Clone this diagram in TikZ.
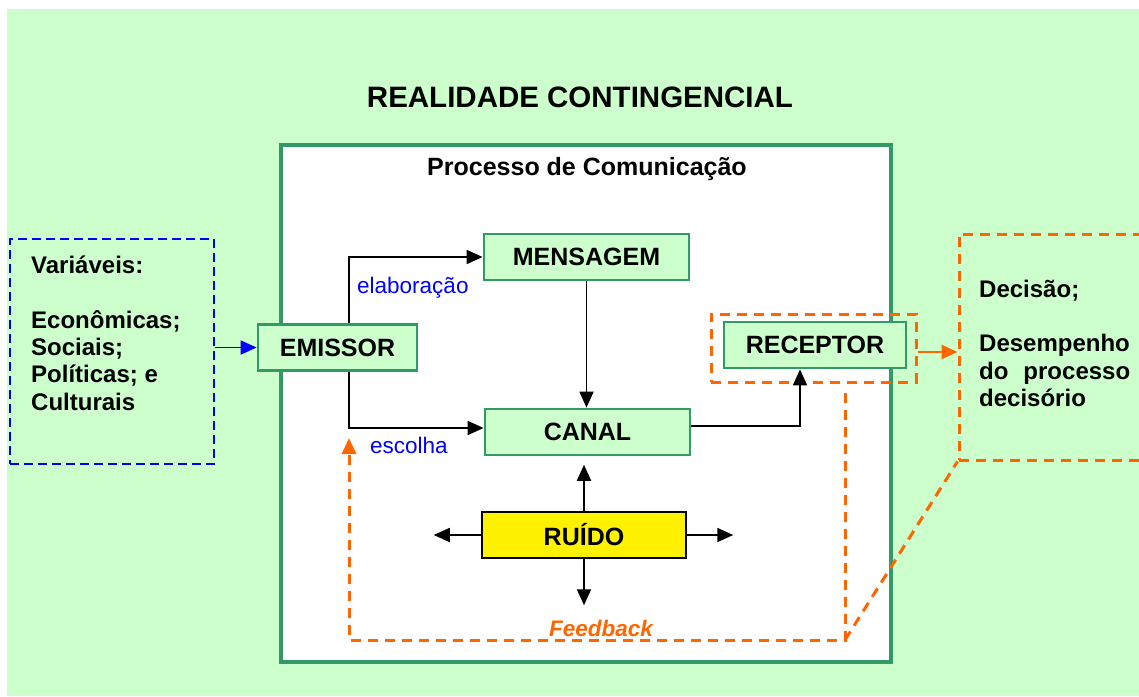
\documentclass[tikz,border=0pt]{standalone}
\usepackage{fontspec}
\setmainfont{Liberation Sans}
\usetikzlibrary{arrows.meta,positioning}
\definecolor{fundo}{HTML}{CCFFCC}
\definecolor{borda}{HTML}{339966}
\definecolor{laranja}{HTML}{FF6600}

\begin{document}
\begin{tikzpicture}[x=1pt,y=-1pt,>={Triangle[length=16pt,width=14pt]},
	caixa/.style={draw=borda,line width=2.8pt,fill=fundo,minimum height=46pt,inner sep=0pt,font=\fontsize{25}{30}\selectfont\bfseries},
	seta/.style={->,line width=1.8pt},
	tracoazul/.style={draw=blue,line width=2.6pt,dash pattern=on 9pt off 5pt},
	tracolaranja/.style={draw=laranja,line width=3pt,dash pattern=on 10pt off 7pt},
	rotulo/.style={text=blue,font=\fontsize{22.5}{26}\selectfont,inner sep=0pt},
	lista/.style={align=left,inner sep=0pt,font=\fontsize{24}{27.3}\selectfont\bfseries}]
	\useasboundingbox (0,0) rectangle (1139,696);
	\clip (0,0) rectangle (1139,696);
	\fill[white] (0,0) rectangle (1139,696);
	\fill[fundo] (7,9) rectangle (1139,696);

	\node[font=\fontsize{29.5}{34}\selectfont\bfseries] (realidade) at (580,97) {REALIDADE CONTINGENCIAL};
	\node[draw=borda,line width=3.2pt,fill=white,minimum width=610pt,minimum height=517pt] (processo) at (586,403.5) {};
	\node[font=\fontsize{25}{30}\selectfont\bfseries] (titulo) at (587,169.5) {Processo de Comunica\c{c}\~ao};

	% caixas do processo
	\node[caixa,minimum width=159pt] (emissor) at (337.5,347.5) {EMISSOR};
	\node[caixa,minimum width=205pt] (mensagem) at (586.5,257) {MENSAGEM};
	\node[caixa,minimum width=205pt] (canal) at (587.5,432) {CANAL};
	\node[caixa,minimum width=182pt] (receptor) at (815,345) {RECEPTOR};
	\node[caixa,draw=black,line width=2.5pt,fill=yellow,minimum width=204pt] (ruido) at (584,535) {RU\'IDO};
	\node[tracolaranja,minimum width=205pt,minimum height=68pt] (receptorbox) at (813.5,348) {};

	% variaveis e decisao
	\node[tracoazul,minimum width=204pt,minimum height=225pt] (variaveis) at (112,351.5) {};
	\node[lista,anchor=north west] (vartxt) at (31,256) {Vari\'aveis:\\[27pt]Econ\^omicas;\\Sociais;\\Pol\'iticas; e\\Culturais};
	\node[tracolaranja,minimum width=200pt,minimum height=226pt] (decisao) at (1059,347) {};
	\node[lista,anchor=north west] (dectxt) at (979,280) {Decis\~ao;\\[27pt]Desempenho\\\hbox to 151pt{do\hfill processo}\\decis\'orio};

	\node[rotulo,anchor=base west] (elab) at (357,293) {elabora\c{c}\~ao};
	\node[rotulo,anchor=base west] (escolha) at (370,453) {escolha};

	% conexoes
	\draw[seta] ([xshift=11.5pt]emissor.north) |- (mensagem.west);
	\draw[seta] ([xshift=11.5pt]emissor.south) |- ([yshift=4pt]canal.west);
	\draw[seta] (mensagem.south) -- (mensagem.south |- canal.north);
	\draw[seta] ([yshift=6pt]canal.east) -| ([xshift=-15pt]receptor.south);
	\draw[seta,blue] (variaveis.east |- emissor.west) -- (emissor.west);
	\draw[seta,laranja,line width=2.5pt] (receptorbox.east |- 0,352) -- (decisao.west |- 0,352);

	\draw[seta] (ruido.north) -- ++(0,-46);
	\draw[seta] (ruido.south) -- ++(0,46);
	\draw[seta] (ruido.west) -- ++(-47,0);
	\draw[seta] (ruido.east) -- ++(46,0);

	% feedback
	\coordinate (fb0) at (845,393);
	\coordinate (fb1) at (845,640);
	\coordinate (fb2) at (349,438);
	\draw[tracolaranja,->] (fb0) -- (fb1) -| (fb2);
	\draw[tracolaranja] (fb1) -- (decisao.south west);
	\node[text=laranja,font=\fontsize{22.5}{26}\selectfont\bfseries\itshape] (feedback) at (601,628) {Feedback};
\end{tikzpicture}
\end{document}
